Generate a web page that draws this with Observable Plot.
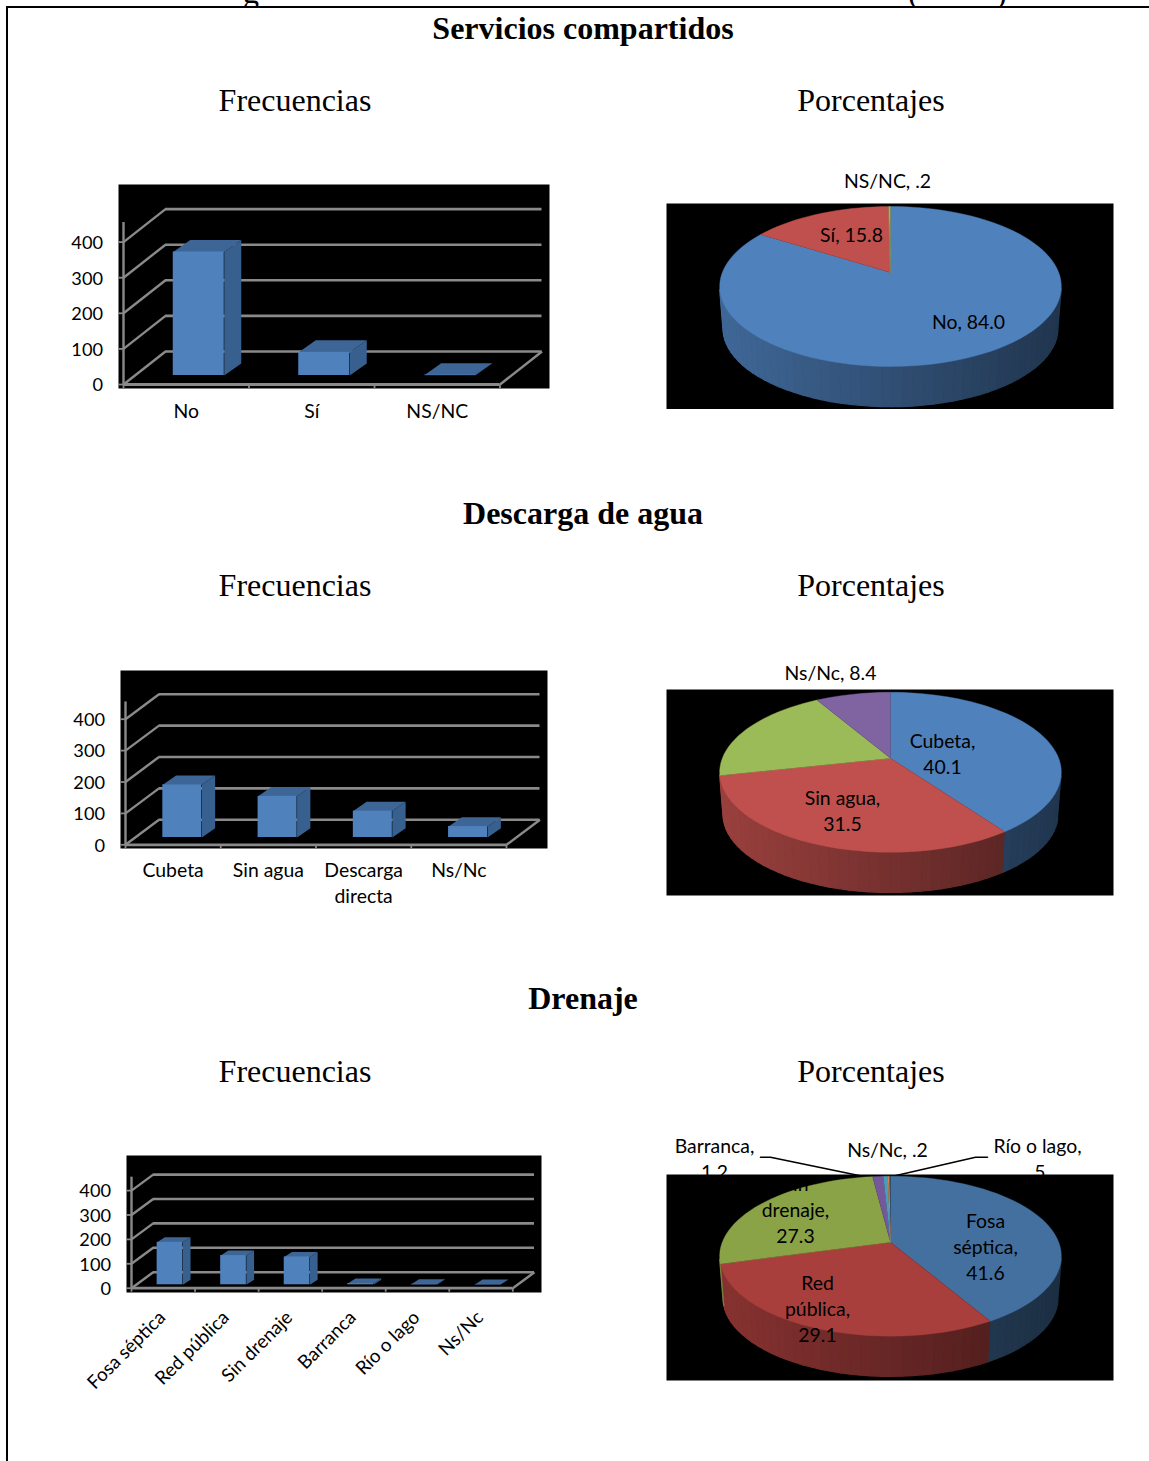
<!DOCTYPE html>
<html lang="es">
<head>
<meta charset="utf-8">
<script src="https://cdn.jsdelivr.net/npm/d3@7"></script>
<script src="https://cdn.jsdelivr.net/npm/@observablehq/plot@0.6"></script>
<style>
html,body{margin:0;padding:0;background:#fff}
#page{position:relative;width:1149px;height:1461px;overflow:hidden;background:#fff}
#frame{position:absolute;left:6px;top:6px;width:1160px;height:1480px;border:2px solid #000;box-sizing:border-box}
.t{position:absolute;font-family:"Liberation Serif",serif;font-size:32px;color:#000;white-space:pre;transform:translate(-50%,-50%);line-height:1}
.b{font-weight:bold}
.cut{position:absolute;left:0;top:0;width:1149px;height:6px;overflow:hidden}
.cut span{position:absolute;font-family:"Liberation Serif",serif;font-size:32px;line-height:1}
</style>
</head>
<body>
<div id="page"><div id="frame"></div><div class="cut"><span style="left:243px;top:-24px">g</span><span style="left:908px;top:-24px">(</span><span style="left:996px;top:-24px">)</span></div></div>
<script>
// ---- Data ----
const serviciosCats = ["No", "Sí", "NS/NC"];
const serviciosFreq = [347, 65, 1];
const serviciosPct = [84.0, 15.8, 0.2];
const serviciosPctText = ["84.0", "15.8", ".2"];

const descargaCats = ["Cubeta", "Sin agua", "Descarga\ndirecta", "Ns/Nc"];
const descargaFreq = [168, 131, 84, 35];
const descargaPct = [40.1, 31.5, 20.0, 8.4];
const descargaPctText = ["40.1", "31.5", null, "8.4"];

const drenajeCats = ["Fosa séptica", "Red pública", "Sin drenaje", "Barranca", "Río o lago", "Ns/Nc"];
const drenajeFreq = [174, 120, 114, 5, 2, 1];
const drenajePct = [41.6, 29.1, 27.3, 1.2, 0.5, 0.2];
const drenajePctText = ["41.6", "29.1", "27.3", "1.2", ".5", ".2"];
const drenajePieNames = ["Fosa\nséptica", "Red\npública", "Sin\ndrenaje", "Barranca", "Río o lago", "Ns/Nc"];

const yTicks = [0, 100, 200, 300, 400];

// ---- Layout and style ----
const labelFont = "Lato, 'Open Sans', sans-serif";
const labelSize = 19.4;
const tickSize = 18.2;
const gridColor = "#8a8a8a";
const barFront = "#4f81bd", barSide = "#37608f", barTop = "#3d6696";
const pieColors1 = ["#4f81bd", "#c0504d", "#9bbb59", "#8064a2"];
const pieColors3 = ["#44709f", "#a83f3d", "#8aa347", "#75589a", "#4a9bc0", "#d08a4a"];

const page = document.getElementById("page");
function place(svg, left, top) { svg.style.position = "absolute"; svg.style.left = left + "px"; svg.style.top = top + "px"; svg.style.maxWidth = "none"; page.appendChild(svg); }
function text(s, x, y, bold) {
  const d = document.createElement("div");
  d.className = "t" + (bold ? " b" : "");
  d.textContent = s; d.style.left = x + "px"; d.style.top = y + "px";
  page.appendChild(d);
}

function barChart(cats, vals, g) {
  const left = 50, top = g.panel[2] - 20, width = 520;
  const n = cats.length;
  const band = (g.x1 - g.x0) / n;
  const du = g.dX / band, dv = g.dY / g.k;                 // floor depth in data units
  const bw = g.barW / band, bdu = g.bdX / band, bdv = g.bdY / g.k;
  const sx = g.sX / band, base = g.sY / g.k;
  const rows = cats.map((c, i) => {
    const a = i + 0.5 + sx - bw / 2;
    return {c, i, a, b: a + bw, lo: base, hi: base + vals[i]};
  });
  const side = rows.flatMap(r => [[r.b, r.lo], [r.b + bdu, r.lo + bdv], [r.b + bdu, r.hi + bdv], [r.b, r.hi]].map(p => ({id: r.i, x: p[0], y: p[1]})));
  const roof = rows.flatMap(r => [[r.a, r.hi], [r.b, r.hi], [r.b + bdu, r.hi + bdv], [r.a + bdu, r.hi + bdv]].map(p => ({id: r.i, x: p[0], y: p[1]})));
  const tickU = (g.x0 - g.panel[0]) / band;
  const tickDown = 4 / g.k;
  const labelMarks = g.rotate
    ? Plot.text(rows, {x: r => r.i + 0.5, text: "c", frameAnchor: "bottom", rotate: -45, textAnchor: "end", lineAnchor: "middle", dy: g.labelDy, dx: g.labelDx, fontSize: 18.8, fill: "#000"})
    : Plot.text(rows, {x: r => r.i + 0.5, text: "c", frameAnchor: "bottom", lineAnchor: "top", dy: g.labelDy, fontSize: labelSize, lineHeight: 1.34, fill: "#000"});
  const plot = Plot.plot({
    width, height: g.plotBottom - top,
    marginLeft: g.panel[0] - left, marginRight: left + width - g.panel[1],
    marginTop: 20, marginBottom: g.plotBottom - g.panel[3],
    style: {background: "transparent", fontFamily: labelFont, color: "#000"},
    x: {domain: [0, n], range: [g.x0 - left, g.x1 - left], axis: null},
    y: {domain: [0, 400], range: [g.floor - top, g.floor - top - 400 * g.k], axis: null},
    marks: [
      Plot.frame({fill: "#000", stroke: null}),
      Plot.ruleY(yTicks, {y: d => d + dv, x1: du, x2: n + du, stroke: gridColor, strokeWidth: 2.6}),
      Plot.link(yTicks, {x1: () => 0, y1: d => d, x2: () => du, y2: d => d + dv, stroke: gridColor, strokeWidth: 2.4}),
      Plot.link([n], {x1: d => d, y1: () => 0, x2: d => d + du, y2: () => dv, stroke: gridColor, strokeWidth: 2.4}),
      Plot.ruleY([0], {x1: 0, x2: n, stroke: gridColor, strokeWidth: 2.8}),
      Plot.ruleX([0], {y1: 0, y2: g.axisTop, stroke: gridColor, strokeWidth: 2.4}),
      Plot.ruleY(yTicks, {x1: -tickU, x2: 0, stroke: gridColor, strokeWidth: 1.8}),
      Plot.ruleX(d3.range(n + 1), {y1: 0, y2: -tickDown, stroke: gridColor, strokeWidth: 1.8}),
      Plot.line(side, {x: "x", y: "y", z: "id", fill: barSide, stroke: null}),
      Plot.line(roof, {x: "x", y: "y", z: "id", fill: barTop, stroke: null}),
      Plot.rect(rows, {x1: "a", x2: "b", y1: "lo", y2: "hi", fill: barFront}),
      Plot.axisY({ticks: yTicks, anchor: "left", tickSize: 0, tickPadding: 15.5, label: null, fontSize: tickSize, fill: "#000", dy: 1}),
      labelMarks
    ]
  });
  place(plot, left, top);
}

const persp = -0.175, radiusX = 168.2, radiusY = 77.55;
function pieChart(names, pct, pctText, colors, g) {
  const left = 640, top = g.panel[2] - 60, width = 509;
  const bottom = g.panel[3] + 10;
  const proj = (deg) => {
    const t = deg * Math.PI / 180, u = Math.sin(t), v = -Math.cos(t), d = 1 + persp * v;
    return [u / d, v / d];
  };
  const depth = 42 / radiusY, shrink = 0.98;
  const surface = [], wall = [];
  let cum = 0, sid = 0;
  const cumEnd = pct.map(p => (cum += p));
  pct.forEach((p, i) => {
    const a0 = (cumEnd[i] - p) * 3.6, a1 = cumEnd[i] * 3.6;
    const steps = Math.max(2, Math.ceil((a1 - a0) / 3));
    const fill = colors[i];
    surface.push({id: i, x: 0, y: 0, fill});
    for (let s = 0; s <= steps; s++) {
      const [x, y] = proj(a0 + (a1 - a0) * s / steps);
      surface.push({id: i, x, y, fill});
    }
    for (let s = 0; s < steps; s++) {
      const [xa, ya] = proj(a0 + (a1 - a0) * s / steps);
      const [xb, yb] = proj(a0 + (a1 - a0) * (s + 1) / steps);
      if (ya < 0.25 && yb < 0.25) continue;
      const xm = (xa + xb) / 2, c = d3.rgb(fill);
      const f = 0.8 - 0.38 * Math.max(0, Math.min(1, (xm + 1) / 2));
      const shade = d3.rgb(c.r * f, c.g * f, c.b * f).formatHex();
      sid++;
      [[xa, ya], [xb, yb], [xb * shrink, yb * shrink + depth], [xa * shrink, ya * shrink + depth]]
        .forEach(q => wall.push({id: sid, x: q[0], y: q[1], fill: shade}));
    }
  });
  const labels = names.map((nm, i) => pctText[i] == null ? null : ({
    t: g.wrap && g.wrap[i] ? `${nm},\n${pctText[i]}` : `${nm}, ${pctText[i]}`,
    x: g.place[i][0] / radiusX, y: g.place[i][1] / radiusY
  })).filter(Boolean);
  const textOpts = {x: "x", y: "y", text: "t", fontSize: labelSize, lineHeight: 1.34, fill: "#000", lineAnchor: "middle", dy: -2};
  const leaderMarks = (g.leaders || []).map(l => Plot.line(l.map(p => ({x: p[0] / radiusX, y: p[1] / radiusY})), {x: "x", y: "y", stroke: "#000", strokeWidth: 1.6}));
  const plot = Plot.plot({
    width, height: bottom - top,
    marginLeft: g.panel[0] - left, marginRight: left + width - g.panel[1],
    marginTop: 60, marginBottom: bottom - g.panel[3],
    style: {background: "transparent", fontFamily: labelFont, color: "#000"},
    x: {domain: [-1, 1], range: [890 - radiusX - left, 890 + radiusX - left], axis: null},
    y: {domain: [-1, 1], range: [g.apex - radiusY - top, g.apex + radiusY - top], axis: null},
    color: {type: "identity"},
    marks: [
      Plot.text(labels.filter(d => d.y < -0.95), textOpts),
      Plot.frame({fill: "#000", stroke: null}),
      ...leaderMarks,
      Plot.line(wall, {x: "x", y: "y", z: "id", fill: "fill", stroke: "fill", strokeWidth: 1.4}),
      Plot.line(surface, {x: "x", y: "y", z: "id", fill: "fill", stroke: "fill", strokeWidth: 0.4}),
      Plot.text(labels.filter(d => d.y >= -0.95), textOpts)
    ]
  });
  place(plot, left, top);
}

// ---- Charts ----
barChart(serviciosCats, serviciosFreq, {
  panel: [118, 549, 184, 388], plotBottom: 430,
  x0: 123, x1: 499.5, floor: 384, k: 0.356, dX: 42, dY: 33, axisTop: 455,
  barW: 51, bdX: 17, bdY: 12, sX: 12.5, sY: 9, labelDy: 11
});
barChart(descargaCats, descargaFreq, {
  panel: [120, 547, 670, 848], plotBottom: 915,
  x0: 125, x1: 506, floor: 844.3, k: 0.314, dX: 33.5, dY: 25, axisTop: 455,
  barW: 39, bdX: 13.3, bdY: 9.3, sX: 9.2, sY: 7.3, labelDy: 10
});
barChart(drenajeCats, drenajeFreq, {
  panel: [126, 541, 1155, 1292], plotBottom: 1400,
  x0: 131, x1: 512.3, floor: 1287.7, k: 0.244, dX: 21.7, dY: 16, axisTop: 455,
  barW: 25.7, bdX: 7.7, bdY: 5, sX: 6.7, sY: 3.4, rotate: true, labelDy: 22, labelDx: -1
});

pieChart(serviciosCats, serviciosPct, serviciosPctText, pieColors1, {
  panel: [666, 1113, 203, 408.5], apex: 272,
  place: [[78, 50], [-39, -37], [-3, -91]]
});
pieChart(descargaCats, descargaPct, descargaPctText, pieColors1, {
  panel: [666, 1113, 688.5, 894.5], apex: 757.3,
  wrap: [true, true, false, false],
  place: [[52, -4], [-48, 53], [0, 0], [-60, -85]]
});
pieChart(drenajePieNames, drenajePct, drenajePctText, pieColors3, {
  panel: [666, 1113, 1174, 1380], apex: 1241.7,
  wrap: [true, true, true, true, true, false],
  place: [[95, 5], [-73, 67], [-95, -32], [-176, -83], [147, -83], [-3, -92]],
  leaders: [
    [[-130, -85], [-120, -85], [-28, -66]],
    [[97, -85], [85, -85], [-2, -65]]
  ]
});

// ---- Headings ----
[["Servicios compartidos", 28, 100], ["Descarga de agua", 513, 585], ["Drenaje", 998, 1071]].forEach(([h, y1, y2]) => {
  text(h, 583, y1, true);
  text("Frecuencias", 295, y2);
  text("Porcentajes", 871, y2);
});
</script>
</body>
</html>
